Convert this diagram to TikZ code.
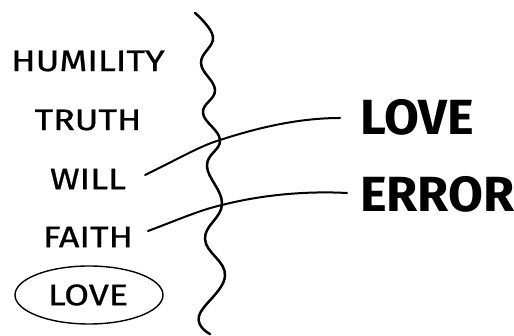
\documentclass[tikz,border=0pt]{standalone}
\usepackage{fontspec}
\setmainfont{Fira Sans}
\newfontfamily\handfont[FakeBold=0.7]{Fira Sans}
\usetikzlibrary{shapes.geometric}
\newcommand{\wordbox}[1]{\scalebox{1.33}[1.1]{#1}}
\begin{document}
\begin{tikzpicture}[x=1pt,y=-1pt,
  word/.style={inner sep=0pt, font=\handfont\fontsize{27}{27}\selectfont},
  big/.style={inner sep=0pt, font=\fontsize{38}{38}\selectfont\bfseries},
  link/.style={line width=2pt, line cap=round}]
\useasboundingbox (0,0) rectangle (514,336);
\node[word] (humility) at (88,61) {\wordbox{HUMILITY}};
\node[word] (truth) at (88,120) {\wordbox{TRUTH}};
\node[word] (will) at (88,179) {\wordbox{WILL}};
\node[word] (faith) at (88,237) {\wordbox{FAITH}};
\node[word] (love) at (88,295) {\wordbox{LOVE}};
\node[draw, ellipse, line width=1.4pt, minimum width=148pt, minimum height=58pt] (loveell) at (89,295) {};
\node[big, anchor=west] (rlove) at (360,117) {\scalebox{1.33}[1.3]{LOVE}};
\node[big, anchor=west] (error) at (360,194) {\scalebox{1.33}[1.3]{ERROR}};
\coordinate (willend) at (145,175);
\coordinate (faithend) at (148,231);
\coordinate (x1) at (220,140);
\coordinate (x2) at (222,205);
\coordinate (le) at (340,118);
\coordinate (ee) at (347,193);
\draw[link] (willend) .. controls (180,158) and (200,146) .. (x1) .. controls (260,127) and (300,118) .. (le);
\draw[link] (faithend) .. controls (180,219) and (200,210) .. (x2) .. controls (265,194) and (310,191) .. (ee);
\draw[line width=2.5pt, line cap=round] plot[smooth, tension=0.7] coordinates {(195,13) (213,37) (201,63) (215,90) (203,113) (220,140) (207,166) (222,204) (205,239) (225,276) (199,316) (210,334)};
\end{tikzpicture}
\end{document}
